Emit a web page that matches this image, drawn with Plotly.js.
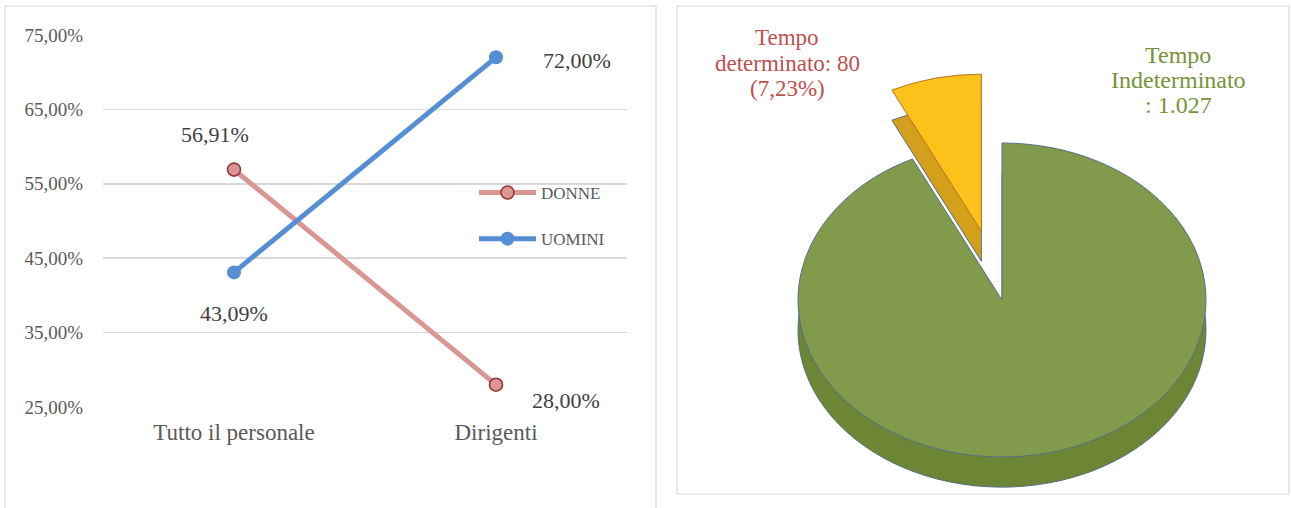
<!DOCTYPE html>
<html>
<head>
<meta charset="utf-8">
<script src="https://cdn.plot.ly/plotly-3.0.1.min.js"></script>
<style>
html,body{margin:0;padding:0;background:#fff;}
#chart{width:1291px;height:508px;}
.pielayer path{vector-effect:non-scaling-stroke;}
</style>
</head>
<body>
<div id="chart"></div>
<script>
// ---- data ----
var categories = ["Tutto il personale", "Dirigenti"];
var donne = [0.5691, 0.28];
var uomini = [0.4309, 0.72];
var seriesNames = ["DONNE", "UOMINI"];
var yTicks = [0.25, 0.35, 0.45, 0.55, 0.65, 0.75];

var pieLabels = ["Tempo Indeterminato", "Tempo determinato"];
var pieValues = [1027, 80];

// ---- helpers ----
function pctIt(v) { return (v * 100).toFixed(2).replace('.', ',') + '%'; }
function intIt(v) { return String(v).replace(/\B(?=(\d{3})+(?!\d))/g, '.'); }

var W = 1291, H = 508;
function px(x) { return x / W; }
function py(y) { return 1 - y / H; }

var serif = "Liberation Serif, Times New Roman, serif";
var pink = "#d99694", pinkDark = "#953735", blue = "#558ed5";

var traces = [
  {
    type: "scatter", mode: "lines+markers", name: seriesNames[0],
    x: categories, y: donne, legendgroup: "a",
    line: {color: pink, width: 5},
    marker: {size: 13, color: pink, line: {color: pinkDark, width: 1.6}},
    hoverinfo: "skip"
  },
  {
    type: "scatter", mode: "lines+markers", name: seriesNames[1],
    x: categories, y: uomini, legendgroup: "b",
    line: {color: blue, width: 5},
    marker: {size: 14, color: blue},
    hoverinfo: "skip"
  }
];

// pie geometry (pre-transform)
var pcx = 1002, pcy = 300, R = 125, pull = 0.45, depth = 24;
var half = R * (1 + pull);
var pieDomX = [px(pcx - half), px(pcx + half)];

traces.push({
  type: "pie", labels: pieLabels, values: pieValues, sort: false,
  direction: "clockwise", rotation: 0, pull: [0, pull],
  textinfo: "none", showlegend: false, hoverinfo: "skip",
  domain: {x: pieDomX, y: [py(pcy + depth + half), py(pcy + depth - half)]},
  marker: {colors: ["#6c8636", "#d4a01c"], line: {color: "#566f86", width: 1}}
});
traces.push({
  type: "pie", labels: pieLabels, values: pieValues, sort: false,
  direction: "clockwise", rotation: 0, pull: [0, pull],
  textinfo: "none", showlegend: false, hoverinfo: "skip",
  domain: {x: pieDomX, y: [py(pcy + half), py(pcy - half)]},
  marker: {colors: ["#829a4c", "#fdc11c"], line: {color: ["#566f86", "#b8741c"], width: 1}}
});

var annotations = [];
// data labels for the line chart
var lblShift = {
  donne: [[-19, 35], [70, -16]],
  uomini: [[0, -41], [81, -3]]
};
[[donne, lblShift.donne], [uomini, lblShift.uomini]].forEach(function (s) {
  s[0].forEach(function (v, i) {
    annotations.push({
      xref: "x", yref: "y", x: categories[i], y: v, text: pctIt(v),
      showarrow: false, xshift: s[1][i][0], yshift: s[1][i][1],
      font: {family: serif, size: 22, color: "#404040"}
    });
  });
});

// pie labels
var total = pieValues[0] + pieValues[1];
var detLines = ["Tempo", "determinato: " + intIt(pieValues[1]), "(" + pctIt(pieValues[1] / total) + ")"];
var indLines = ["Tempo", "Indeterminato", ": " + intIt(pieValues[0])];
detLines.forEach(function (t, i) {
  annotations.push({xref: "paper", yref: "paper", x: px(787), y: py(38 + 25 * i),
    text: t, showarrow: false, xanchor: "center", yanchor: "middle",
    font: {family: serif, size: 23, color: "#c0504d"}});
});
indLines.forEach(function (t, i) {
  annotations.push({xref: "paper", yref: "paper", x: px(1178), y: py(55 + 25 * i),
    text: t, showarrow: false, xanchor: "center", yanchor: "middle",
    font: {family: serif, size: 24, color: "#77933c"}});
});

var layout = {
  width: W, height: H, autosize: false,
  margin: {l: 0, r: 0, t: 0, b: 0, pad: 0},
  paper_bgcolor: "#ffffff", plot_bgcolor: "rgba(0,0,0,0)",
  separators: ",.",
  showlegend: true,
  font: {family: serif},
  xaxis: {
    domain: [px(103), px(627)], type: "category", range: [-0.5, 1.5],
    showgrid: false, zeroline: false, showline: false,
    ticks: "outside", ticklen: 4, tickcolor: "rgba(0,0,0,0)",
    tickfont: {family: serif, size: 23, color: "#595959"}, fixedrange: true
  },
  yaxis: {
    domain: [py(407), py(35)], range: [0.25, 0.75],
    tickvals: yTicks, tickformat: ".2%",
    showgrid: true, gridcolor: "#d9d9d9", gridwidth: 1.5,
    zeroline: false, showline: false,
    ticks: "outside", ticklen: 15, tickcolor: "rgba(0,0,0,0)",
    tickfont: {family: serif, size: 19, color: "#595959"}, fixedrange: true
  },
  legend: {
    x: px(474), y: py(175), xanchor: "left", yanchor: "top",
    bgcolor: "rgba(0,0,0,0)", font: {family: serif, size: 17, color: "#595959"},
    traceorder: "grouped", tracegroupgap: 21, itemwidth: 57
  },
  annotations: annotations,
  shapes: [
    {type: "rect", xref: "paper", yref: "paper", x0: px(5), x1: px(656), y0: py(520), y1: py(6),
      line: {color: "#d9d9d9", width: 1.2}, fillcolor: "rgba(0,0,0,0)", layer: "below"},
    {type: "rect", xref: "paper", yref: "paper", x0: px(677), x1: px(1289), y0: py(494), y1: py(6),
      line: {color: "#d9d9d9", width: 1.2}, fillcolor: "rgba(0,0,0,0)", layer: "below"}
  ]
};

Plotly.newPlot("chart", traces, layout, {displayModeBar: false, staticPlot: true}).then(function () {
  var pl = document.querySelector(".pielayer");
  if (pl) {
    var sx = 204 / R, sy = 157 / R;
    pl.setAttribute("transform",
      "translate(" + pcx + "," + pcy + ") scale(" + sx + "," + sy + ") translate(" + (-pcx) + "," + (-pcy) + ")");
  }
});
</script>
</body>
</html>
